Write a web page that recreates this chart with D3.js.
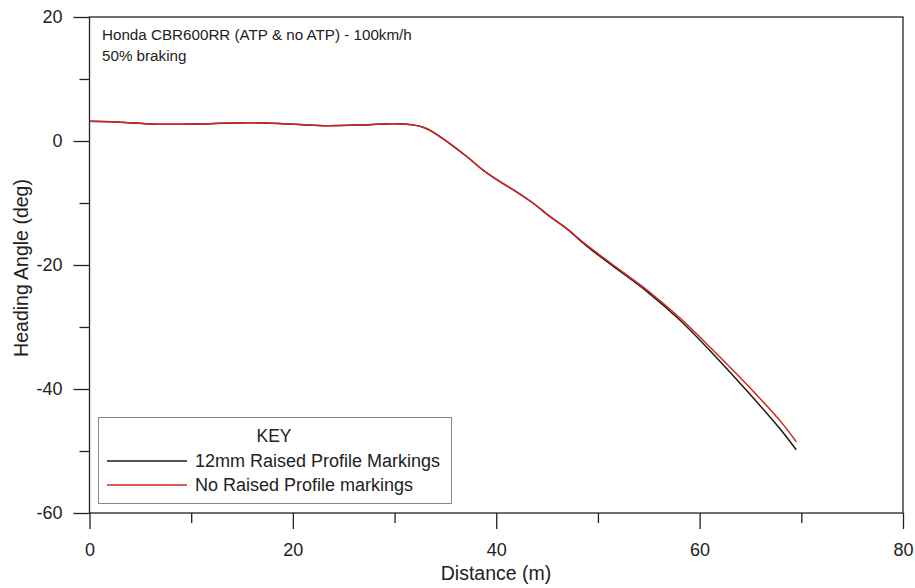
<!DOCTYPE html>
<html>
<head>
<meta charset="utf-8">
<script src="https://cdn.jsdelivr.net/npm/d3@7/dist/d3.min.js"></script>
<style>
  html, body { margin: 0; padding: 0; background: #fff; }
  svg { display: block; font-family: "Liberation Sans", Arial, sans-serif; }
</style>
</head>
<body>
<svg id="chart" width="915" height="588"></svg>
<script>
// Heading angle vs distance, two runs
const distance = [0, 3.5, 7, 11, 15.5, 19, 23, 27, 29.8, 31.8, 33, 34, 35.4, 37.1, 38.7, 40.4, 42.0, 43.6, 45.3, 46.9, 48.9, 51.5, 54.8, 58.1, 61.3, 64.6, 67.9, 69.5];
const noRaised = [3.2, 3.0, 2.7, 2.75, 2.95, 2.8, 2.47, 2.6, 2.8, 2.6, 2.1, 1.2, -0.37, -2.5, -4.7, -6.6, -8.2, -10.0, -12.2, -14.1, -16.8, -20.0, -24.0, -28.6, -33.7, -39.2, -45.1, -48.5];
const raised12mm = [3.2, 3.0, 2.7, 2.75, 2.95, 2.8, 2.47, 2.6, 2.8, 2.6, 2.1, 1.2, -0.37, -2.5, -4.7, -6.6, -8.2, -10.0, -12.2, -14.1, -16.95, -20.2, -24.25, -28.95, -34.3, -40.2, -46.4, -49.8];

const xMajorTicks = [0, 20, 40, 60, 80];
const xMinorTicks = [10, 30, 50, 70];
const yMajorTicks = [20, 0, -20, -40, -60];
const yMinorTicks = [10, -10, -30, -50];

const seriesNames = ["12mm Raised Profile Markings", "No Raised Profile markings"];
const seriesColors = ["#1a1a1a", "#d42424"];

const svg = d3.select("#chart");
const plotLeft = 89.5, plotRight = 903, plotTop = 17, plotBottom = 513;

const x = d3.scaleLinear().domain([0, 80]).range([plotLeft, plotRight]);
const y = d3.scaleLinear().domain([-60, 20]).range([plotBottom, plotTop]);

// Frame
svg.append("rect")
  .attr("x", plotLeft).attr("y", plotTop)
  .attr("width", plotRight - plotLeft).attr("height", plotBottom - plotTop)
  .attr("fill", "none").attr("stroke", "#222").attr("stroke-width", 1.3);

// Axes: long major ticks, short minor ticks, drawn outward; plain hyphen for negatives
const fmt = d => String(d);
const xAxis = d3.axisBottom(x).tickValues(xMajorTicks).tickSize(16).tickPadding(14).tickFormat(fmt);
const xAxisMinor = d3.axisBottom(x).tickValues(xMinorTicks).tickSize(10).tickFormat("");
const yAxis = d3.axisLeft(y).tickValues(yMajorTicks).tickSize(16).tickPadding(11).tickFormat(fmt);
const yAxisMinor = d3.axisLeft(y).tickValues(yMinorTicks).tickSize(10).tickFormat("");

function styleAxis(g) {
  g.select(".domain").remove();
  g.selectAll(".tick line").attr("stroke", "#222").attr("stroke-width", 1.3);
  g.selectAll(".tick text").attr("fill", "#222").style("font-size", "18px").style("font-family", "'Liberation Sans', Arial, sans-serif");
}

svg.append("g").attr("transform", `translate(0,${plotBottom})`).call(xAxis).call(styleAxis);
svg.append("g").attr("transform", `translate(0,${plotBottom})`).call(xAxisMinor).call(styleAxis);
svg.append("g").attr("transform", `translate(${plotLeft},0)`).call(yAxis).call(styleAxis);
svg.append("g").attr("transform", `translate(${plotLeft},0)`).call(yAxisMinor).call(styleAxis);

// Axis titles
svg.append("text")
  .attr("x", 496).attr("y", 580)
  .attr("text-anchor", "middle").attr("fill", "#222")
  .style("font-size", "19.5px").text("Distance (m)");

svg.append("text")
  .attr("transform", "translate(28,268) rotate(-90)")
  .attr("text-anchor", "middle").attr("fill", "#222")
  .style("font-size", "19.5px").text("Heading Angle (deg)");

// Annotation
svg.append("text").attr("x", 102).attr("y", 40).attr("fill", "#222")
  .style("font-size", "15.2px").text("Honda CBR600RR (ATP & no ATP) - 100km/h");
svg.append("text").attr("x", 102).attr("y", 61).attr("fill", "#222")
  .style("font-size", "15.2px").text("50% braking");

// Data lines
const line = d3.line()
  .x(d => x(d[0]))
  .y(d => y(d[1]))
  .curve(d3.curveCatmullRom.alpha(0.5));

const series = [raised12mm, noRaised];
series.forEach((vals, i) => {
  svg.append("path")
    .datum(distance.map((d, j) => [d, vals[j]]))
    .attr("fill", "none")
    .attr("stroke", seriesColors[i])
    .attr("stroke-width", 1.5)
    .attr("d", line);
});

// Legend
const lg = svg.append("g");
lg.append("rect").attr("x", 98.5).attr("y", 417.5).attr("width", 353).attr("height", 86)
  .attr("fill", "#fff").attr("stroke", "#888").attr("stroke-width", 1);
lg.append("text").attr("x", 274).attr("y", 442).attr("text-anchor", "middle")
  .attr("fill", "#222").style("font-size", "17.5px").text("KEY");
seriesNames.forEach((name, i) => {
  const yy = 461 + i * 24;
  lg.append("line").attr("x1", 107).attr("x2", 187).attr("y1", yy).attr("y2", yy)
    .attr("stroke", seriesColors[i]).attr("stroke-width", 1.5);
  lg.append("text").attr("x", 195).attr("y", yy + 6)
    .attr("fill", "#222").style("font-size", "18px").text(name);
});
</script>
</body>
</html>
